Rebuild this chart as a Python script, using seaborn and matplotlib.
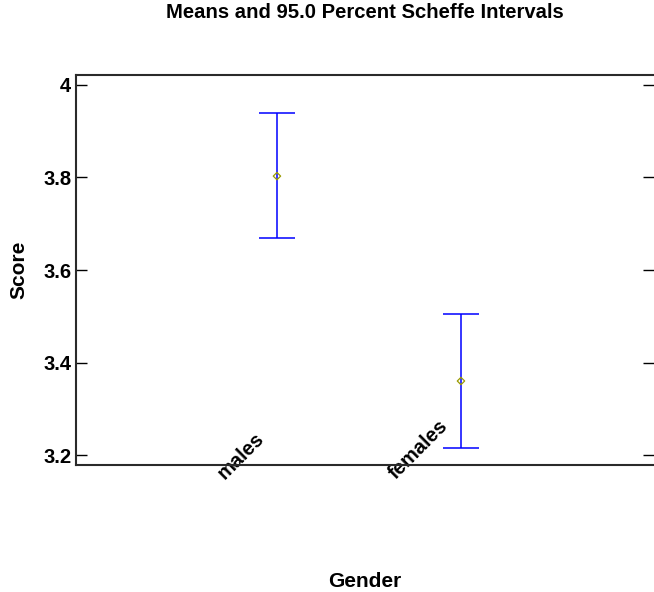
import matplotlib
matplotlib.use("Agg")
import matplotlib.pyplot as plt
import matplotlib.transforms as mtransforms
import numpy as np
import pandas as pd
import seaborn as sns

# Group means with their 95% Scheffe interval bounds
groups = ["males", "females"]
means = [3.803, 3.360]
lower = [3.669, 3.215]
upper = [3.940, 3.505]

y_ticks = [3.2, 3.4, 3.6, 3.8, 4.0]
y_tick_labels = ["3.2", "3.4", "3.6", "3.8", "4"]

title = "Means and 95.0 Percent Scheffe Intervals"
x_label = "Gender"
y_label = "Score"

df = pd.DataFrame({"group": groups, "mean": means, "lower": lower, "upper": upper})
df["pos"] = np.arange(len(df))

sns.set_theme(style="white")
plt.rcParams["font.family"] = ["Liberation Sans", "DejaVu Sans"]
plt.rcParams["font.weight"] = "bold"
plt.rcParams["text.color"] = "black"
plt.rcParams["axes.labelcolor"] = "black"
plt.rcParams["xtick.color"] = "black"
plt.rcParams["ytick.color"] = "black"

fig = plt.figure(figsize=(6.54, 5.92), dpi=100)
W, H = 654, 592
ax = fig.add_axes([76 / W, (H - 465) / H, (654 - 76) / W, (465 - 75) / H])

# interval whiskers with caps
ax.errorbar(
    df["pos"], df["mean"],
    yerr=[df["mean"] - df["lower"], df["upper"] - df["mean"]],
    fmt="none", ecolor="#0000ff", elinewidth=1.1, capsize=13, capthick=1.1, zorder=2,
)
# group means
sns.scatterplot(
    data=df, x="pos", y="mean", ax=ax, marker="D", s=14,
    facecolor="none", edgecolor="#9a9a00", linewidth=0.9, zorder=3, legend=False,
)

ax.set_xlim(-1.092, 2.049)
ax.set_ylim(3.1784, 4.0216)

ax.set_yticks(y_ticks)
ax.set_yticklabels(y_tick_labels)
ax.set_xticks(df["pos"])
ax.set_xticklabels(df["group"])

ax.tick_params(axis="y", direction="in", length=8, width=1, color="black",
               left=True, right=True, labelsize=14.5, pad=3.5, labelcolor="black")
ax.tick_params(axis="x", length=0, labelsize=14.5, pad=13, labelcolor="black")

for lbl in ax.get_xticklabels():
    lbl.set_rotation(45)
    lbl.set_ha("right")
    lbl.set_va("bottom")
    lbl.set_fontweight("bold")
    lbl.set_transform(lbl.get_transform() +
                      mtransforms.ScaledTranslation(-9 / 100, 0, fig.dpi_scale_trans))
for lbl in ax.get_yticklabels():
    lbl.set_fontweight("bold")

for side in ["left", "top", "bottom"]:
    ax.spines[side].set_color("#2a2a2a")
    ax.spines[side].set_linewidth(1.5)
ax.spines["right"].set_visible(False)

ax.set_xlabel(x_label, fontsize=15, fontweight="bold", va="top", color="black")
ax.xaxis.set_label_coords(0.5, (465 - 572) / 390)
ax.set_ylabel(y_label, fontsize=15, fontweight="bold", color="black")
ax.yaxis.set_label_coords((28 - 76) / 578, 0.5)
ax.set_title(title, fontsize=14.6, fontweight="bold", pad=0, y=(465 - 18) / 390,
             color="black")

fig.savefig("out.png", dpi=100)
